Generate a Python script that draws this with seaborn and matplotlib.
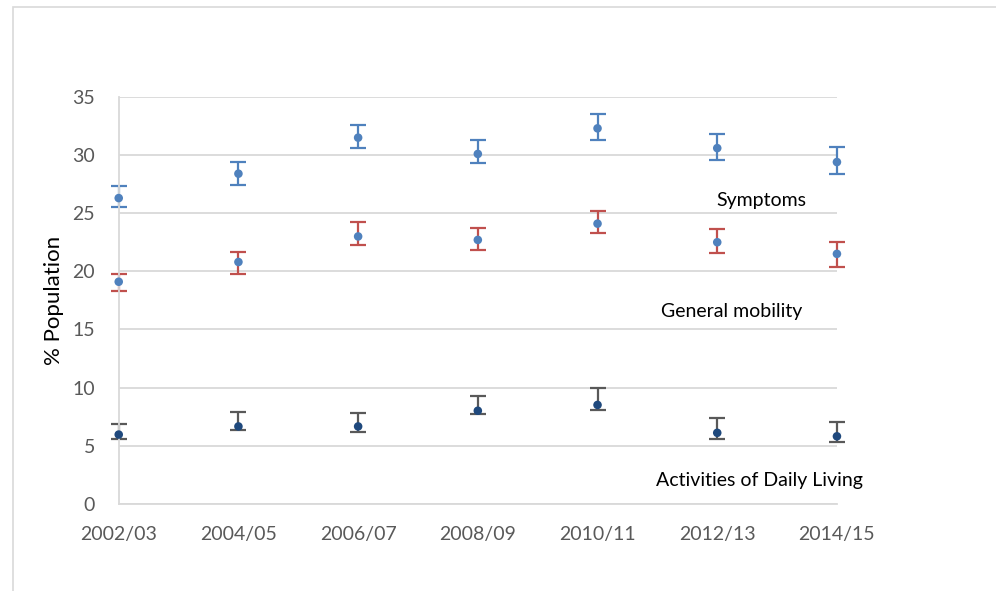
import numpy as np
import pandas as pd
import seaborn as sns
import matplotlib.pyplot as plt
from matplotlib.patches import Rectangle

years = ['2002/03', '2004/05', '2006/07', '2008/09', '2010/11', '2012/13', '2014/15']

symptoms = [26.3, 28.4, 31.5, 30.1, 32.3, 30.6, 29.4]
symptoms_lo = [25.5, 27.4, 30.6, 29.3, 31.3, 29.6, 28.4]
symptoms_hi = [27.3, 29.4, 32.6, 31.3, 33.5, 31.8, 30.7]

mobility = [19.1, 20.8, 23.0, 22.7, 24.1, 22.5, 21.5]
mobility_lo = [18.3, 19.8, 22.3, 21.8, 23.3, 21.6, 20.4]
mobility_hi = [19.8, 21.7, 24.2, 23.7, 25.2, 23.6, 22.5]

adl = [5.95, 6.65, 6.65, 8.0, 8.5, 6.1, 5.8]
adl_lo = [5.6, 6.3, 6.2, 7.7, 8.05, 5.55, 5.3]
adl_hi = [6.9, 7.9, 7.8, 9.3, 10.0, 7.4, 7.0]

sns.set_theme(style='white')
plt.rcParams['font.family'] = ['Lato', 'DejaVu Sans']

fig = plt.figure(figsize=(9.96, 5.91), dpi=100)
ax = fig.add_axes([0.1192, 0.1477, 0.7211, 0.6882])

# outer chart border (only left and top edges visible)
fig.patches.append(Rectangle((13 / 996, -0.1), 1.2, (591 - 6.5) / 591 + 0.1,
                             transform=fig.transFigure, fill=False,
                             edgecolor='#D9D9D9', linewidth=1.2, zorder=0))

x = np.arange(len(years))
series = [
    (symptoms, symptoms_lo, symptoms_hi, '#4F81BD', '#4F81BD'),
    (mobility, mobility_lo, mobility_hi, '#4F81BD', '#C0504D'),
    (adl, adl_lo, adl_hi, '#1F497D', '#595959'),
]

for vals, lo, hi, pcol, ecol in series:
    vals = np.array(vals)
    err = [vals - np.array(lo), np.array(hi) - vals]
    ax.errorbar(x, vals, yerr=err, fmt='none', ecolor=ecol, elinewidth=1.6,
                capsize=6, capthick=1.6, zorder=2, clip_on=False)
    df = pd.DataFrame({'x': x, 'y': vals})
    sns.scatterplot(data=df, x='x', y='y', color=pcol, s=38, edgecolor='none',
                    ax=ax, zorder=3, clip_on=False)

ax.set_xlim(0, 6)
ax.set_ylim(0, 35)
ax.set_yticks(range(0, 36, 5))
ax.set_xticks(x)
ax.set_xticklabels(years)
ax.set_xticks(x[:-1] + 0.5, minor=True)
ax.yaxis.grid(True, color='#D9D9D9', linewidth=1.3)
ax.set_axisbelow(True)

for s in ['top', 'right']:
    ax.spines[s].set_visible(False)
for s in ['left', 'bottom']:
    ax.spines[s].set_color('#D9D9D9')
    ax.spines[s].set_linewidth(1.3)

ax.tick_params(axis='y', length=0, pad=17, labelsize=14, labelcolor='#595959')
ax.tick_params(axis='x', which='major', length=0, pad=16, labelsize=14,
               labelcolor='#595959')
ax.tick_params(axis='x', which='minor', direction='in', length=5,
               color='#D9D9D9', width=1.3)

ax.set_xlabel('')
ax.set_ylabel('% Population', fontsize=16, color='#000000', labelpad=6)

ax.text(5.37, 26.1, 'Symptoms', fontsize=14, ha='center', va='center', color='#000000')
ax.text(5.12, 16.5, 'General mobility', fontsize=14, ha='center', va='center', color='#000000')
ax.text(5.35, 2.0, 'Activities of Daily Living', fontsize=14, ha='center', va='center', color='#000000')

fig.savefig('out.png', dpi=100)
